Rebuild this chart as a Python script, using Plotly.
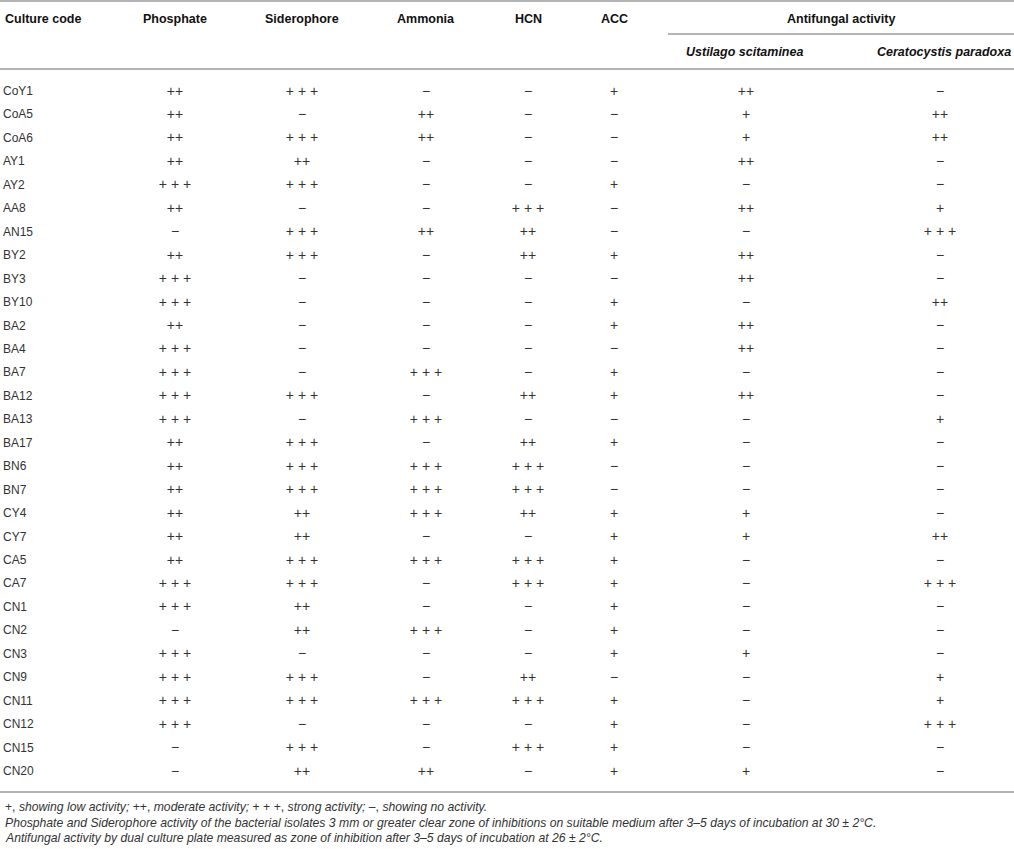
import plotly.graph_objects as go

# table content
culture_codes = ["CoY1", "CoA5", "CoA6", "AY1", "AY2", "AA8", "AN15", "BY2", "BY3", "BY10",
                 "BA2", "BA4", "BA7", "BA12", "BA13", "BA17", "BN6", "BN7", "CY4", "CY7",
                 "CA5", "CA7", "CN1", "CN2", "CN3", "CN9", "CN11", "CN12", "CN15", "CN20"]

phosphate = ["++", "++", "++", "++", "+++", "++", "−", "++", "+++", "+++",
             "++", "+++", "+++", "+++", "+++", "++", "++", "++", "++", "++",
             "++", "+++", "+++", "−", "+++", "+++", "+++", "+++", "−", "−"]
siderophore = ["+++", "−", "+++", "++", "+++", "−", "+++", "+++", "−", "−",
               "−", "−", "−", "+++", "−", "+++", "+++", "+++", "++", "++",
               "+++", "+++", "++", "++", "−", "+++", "+++", "−", "+++", "++"]
ammonia = ["−", "++", "++", "−", "−", "−", "++", "−", "−", "−",
           "−", "−", "+++", "−", "+++", "−", "+++", "+++", "+++", "−",
           "+++", "−", "−", "+++", "−", "−", "+++", "−", "−", "++"]
hcn = ["−", "−", "−", "−", "−", "+++", "++", "++", "−", "−",
       "−", "−", "−", "++", "−", "++", "+++", "+++", "++", "−",
       "+++", "+++", "−", "−", "−", "++", "+++", "−", "+++", "−"]
acc = ["+", "−", "−", "−", "+", "−", "−", "+", "−", "+",
       "+", "−", "+", "+", "−", "+", "−", "−", "+", "+",
       "+", "+", "+", "+", "+", "−", "+", "+", "+", "+"]
ustilago = ["++", "+", "+", "++", "−", "++", "−", "++", "++", "−",
            "++", "++", "−", "++", "−", "−", "−", "−", "+", "+",
            "−", "−", "−", "−", "+", "−", "−", "−", "−", "+"]
ceratocystis = ["−", "++", "++", "−", "−", "+", "+++", "−", "−", "++",
                "−", "−", "−", "−", "+", "−", "−", "−", "−", "++",
                "−", "+++", "−", "−", "−", "+", "+", "+++", "−", "−"]

headers = ["Phosphate", "Siderophore", "Ammonia", "HCN", "ACC"]
sub_headers = ["Ustilago scitaminea", "Ceratocystis paradoxa"]
footnotes = [
    "+, <i>showing low activity;</i> ++, <i>moderate activity;</i> + + +, <i>strong activity;</i> –, <i>showing no activity.</i>",
    "<i>Phosphate and Siderophore activity of the bacterial isolates 3 mm or greater clear zone of inhibitions on suitable medium after 3–5 days of incubation at 30 ± 2°C.</i>",
    "<i>Antifungal activity by dual culture plate measured as zone of inhibition after 3–5 days of incubation at 26 ± 2°C.</i>",
]

W, H = 1014, 849
FONT = "Liberation Sans, Arial, Helvetica, sans-serif"
TXT = "#333333"
LINE = "#b4b4b4"

row_top, row_h = 92, 23.45
row_y = [row_top + i * row_h for i in range(len(culture_codes))]

columns = [phosphate, siderophore, ammonia, hcn, acc, ustilago, ceratocystis]
col_x = [175, 302, 426, 528, 614, 746, 940]
sub_x = [744, 944]


def fmt(v):
    return "+ + +" if v == "+++" else v


fig = go.Figure()

fig.add_trace(go.Scatter(x=[3] * len(culture_codes), y=row_y, mode="text",
                         text=culture_codes, textposition="middle right",
                         textfont=dict(family=FONT, size=12, color=TXT),
                         hoverinfo="skip"))

for cx, vals in zip(col_x, columns):
    fig.add_trace(go.Scatter(x=[cx] * len(vals), y=row_y, mode="text",
                             text=[fmt(v) for v in vals], textposition="middle center",
                             textfont=dict(family=FONT, size=14, color=TXT),
                             hoverinfo="skip"))

# header texts
ann = [dict(x=3, y=19, text="<b>Culture code</b>", xanchor="left")]
for cx, h in zip(col_x, headers):
    ann.append(dict(x=cx, y=19, text="<b>" + h + "</b>", xanchor="center"))
ann.append(dict(x=841, y=19, text="<b>Antifungal activity</b>", xanchor="center"))
for cx, h in zip(sub_x, sub_headers):
    ann.append(dict(x=cx, y=52, text="<b><i>" + h + "</i></b>", xanchor="center"))
for i, t in enumerate(footnotes):
    ann.append(dict(x=3, y=807 + i * 15.5, text=t, xanchor="left",
                    font=dict(family=FONT, size=12.2, color=TXT)))

for a in ann:
    a.setdefault("font", dict(family=FONT, size=12.5, color="#111"))
    a.update(xref="x", yref="y", yanchor="middle", showarrow=False)

shapes = [
    dict(type="line", x0=0, x1=W, y0=1, y1=1),
    dict(type="line", x0=668, x1=W, y0=34, y1=34),
    dict(type="line", x0=0, x1=W, y0=69, y1=69),
    dict(type="line", x0=0, x1=W, y0=792, y1=792),
]
for s in shapes:
    s.update(xref="x", yref="y", line=dict(color=LINE, width=2), layer="below")

fig.update_layout(
    width=W, height=H,
    margin=dict(l=0, r=0, t=0, b=0),
    paper_bgcolor="white", plot_bgcolor="white",
    showlegend=False,
    annotations=ann, shapes=shapes,
    xaxis=dict(range=[0, W], visible=False, fixedrange=True),
    yaxis=dict(range=[H, 0], visible=False, fixedrange=True),
)

fig.write_html("out.html", config={"displayModeBar": False},
               post_script="document.body.style.margin='0';")
